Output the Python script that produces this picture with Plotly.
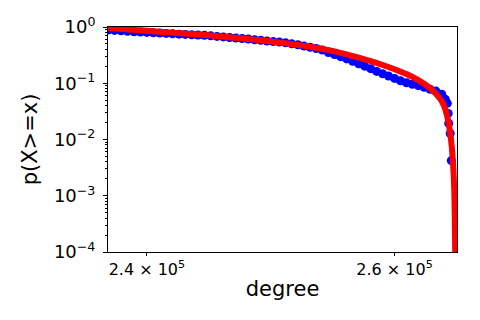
import plotly.graph_objects as go

# empirical ccdf (blue points)
deg_data = [237000, 237500, 238000, 238500, 239000, 239500, 240000, 240500, 241000,
            241500, 242000, 242500, 243000, 243500, 244000, 244500, 245000, 245500,
            246000, 246500, 247000, 247500, 248000, 248500, 249000, 249500, 250000,
            250500, 251000, 251500, 252000, 252500, 253000, 253500, 254000, 254500,
            255000, 255500, 256000, 256500, 257000, 257500, 258000, 258500, 259000,
            259500, 260000, 260500, 261000, 261500, 262000, 262500, 263000, 263500,
            264000, 264300, 264470, 264550, 264590, 264720, 264810]
p_data = [0.8840, 0.8696, 0.8554, 0.8414, 0.8244, 0.8143, 0.8010, 0.7880, 0.7783,
          0.7688, 0.7562, 0.7470, 0.7378, 0.7288, 0.7197, 0.7109, 0.6965, 0.6795,
          0.6657, 0.6494, 0.6362, 0.6233, 0.6105, 0.5932, 0.5788, 0.5623, 0.5509,
          0.5397, 0.5223, 0.5012, 0.4830, 0.4578, 0.4357, 0.4147, 0.3883, 0.3504,
          0.3228, 0.2972, 0.2705, 0.2451, 0.2220, 0.2011, 0.1815, 0.1624, 0.1478,
          0.1345, 0.1218, 0.1108, 0.1021, 0.09597, 0.09061, 0.08483, 0.07814, 0.07255,
          0.06362, 0.05179, 0.04394, 0.02912, 0.01931, 0.01280, 0.004217]

# fitted ccdf (red line)
deg_fit = [237000, 240000, 242000, 244000, 246000, 248000, 250000, 252000, 253000,
           254000, 255000, 256000, 257000, 258000, 259000, 260000, 261000, 262000,
           263000, 263500, 264000, 264300, 264500, 264700, 264850, 264950, 265050,
           265100, 265150, 265170]
p_fit = [0.9558, 0.8554, 0.7943, 0.7348, 0.6740, 0.6131, 0.5486, 0.4810, 0.4429,
         0.4079, 0.3697, 0.3268, 0.2853, 0.2471, 0.2113, 0.1778, 0.1460, 0.1140,
         0.08210, 0.06494, 0.04772, 0.03434, 0.02371, 0.01389, 0.007499, 0.004047,
         0.001572, 0.0005623, 0.0000781, 0.00001]

# axis ticks
y_ticks = [1, 0.1, 0.01, 0.001, 0.0001]
y_labels = ["10<sup>0</sup>", "10<sup>\u22121</sup>", "10<sup>\u22122</sup>",
            "10<sup>\u22123</sup>", "10<sup>\u22124</sup>"]
y_minor = [m * 10.0 ** k for k in range(-4, 0) for m in range(2, 10)]
x_ticks = [240000, 260000]
x_labels = ["2.4 \u00d7 10<sup>5</sup>", "2.6 \u00d7 10<sup>5</sup>"]

fig = go.Figure()
fig.add_trace(go.Scatter(x=deg_data, y=p_data, mode="markers",
                         marker=dict(color="#0000ff", size=9, line=dict(width=0))))
fig.add_trace(go.Scatter(x=deg_fit, y=p_fit, mode="lines",
                         line=dict(color="#ff0000", width=6, shape="spline", smoothing=0.8)))

# page body has an 8px margin, so the figure is sized to fit what's left
fig.update_layout(
    width=472, height=312,
    margin=dict(l=100, r=23, t=19, b=68),
    paper_bgcolor="white", plot_bgcolor="white",
    showlegend=False,
    font=dict(family="DejaVu Sans", color="black"),
)
fig.update_xaxes(
    type="log", range=[5.374748, 5.423737], automargin=False,
    tickvals=x_ticks, ticktext=x_labels, tickfont=dict(size=16),
    ticks="outside", ticklen=3, tickcolor="black",
    showline=True, linecolor="black", linewidth=1, mirror=True,
    showgrid=False, zeroline=False,
    title=dict(text="degree", font=dict(size=21), standoff=3),
)
fig.update_yaxes(
    type="log", range=[-4, 0], automargin=False,
    tickvals=y_ticks, ticktext=y_labels, tickfont=dict(size=18),
    ticks="outside", ticklen=4, tickcolor="black",
    minor=dict(tickmode="array", tickvals=y_minor, ticks="outside", ticklen=2,
               tickcolor="black", showgrid=False),
    showline=True, linecolor="black", linewidth=1, mirror=True,
    showgrid=False, zeroline=False, ticklabelstandoff=4,
    title=dict(text="p(X>=x)", font=dict(size=21), standoff=10),
)

fig.write_html("out.html")
